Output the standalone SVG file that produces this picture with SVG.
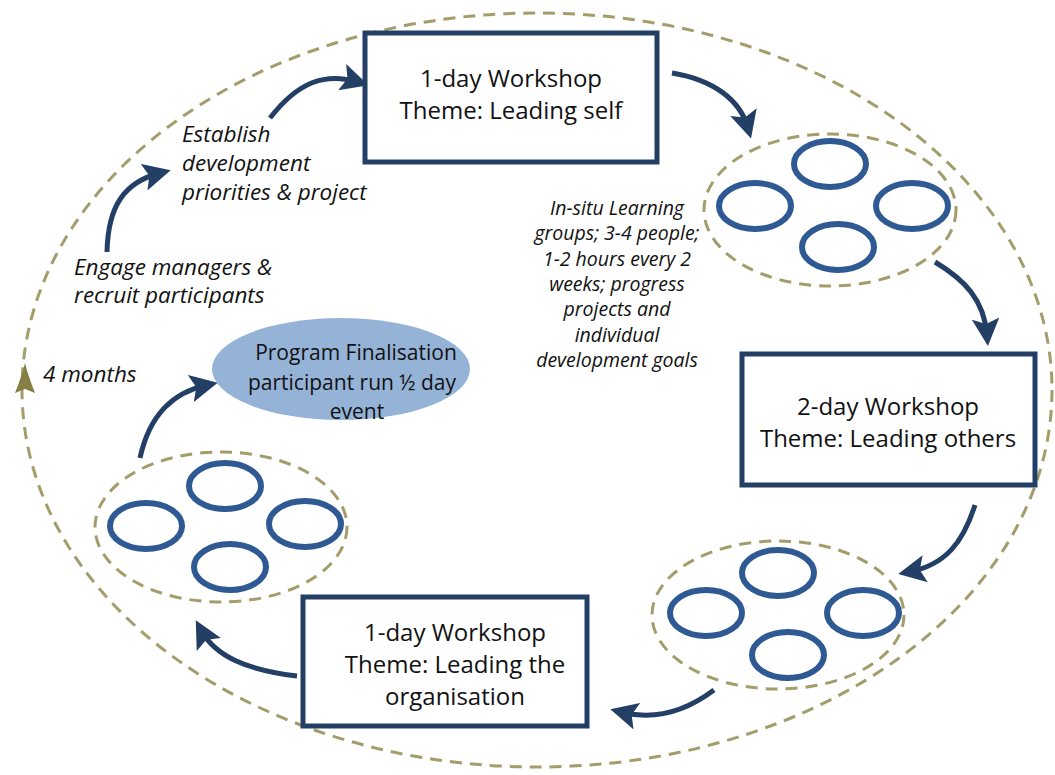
<svg xmlns="http://www.w3.org/2000/svg" width="1055" height="775" viewBox="0 0 1055 775">
<defs>
<style>
.dash{fill:none;stroke:#a39d6c;stroke-width:3;stroke-dasharray:12 8}
.box{fill:#fff;stroke:#243f66;stroke-width:5}
.ring{fill:none;stroke:#2e5993;stroke-width:6}
.conn{fill:none;stroke:#243f66;stroke-width:5;marker-end:url(#ah)}
.bt{font-family:"Open Sans","Liberation Sans",sans-serif;font-size:24px;fill:#111;text-anchor:middle}
.ft{font-family:"Open Sans","Liberation Sans",sans-serif;font-size:21px;fill:#111;text-anchor:middle}
.it{font-family:"Open Sans","Liberation Sans",sans-serif;font-style:italic;font-size:22.5px;fill:#111}
.mt{font-family:"Open Sans","Liberation Sans",sans-serif;font-style:italic;font-size:19.5px;fill:#111;text-anchor:middle}
</style>
<marker id="ah" viewBox="0 0 10 10" refX="6" refY="5" markerWidth="5.5" markerHeight="5.5" orient="auto" markerUnits="strokeWidth">
<path d="M0,0 L10,5 L0,10 L2,5 z" fill="#243f66"/>
</marker>
</defs>
<rect width="1055" height="775" fill="#fff"/>

<g id="cycle">
<ellipse class="dash" cx="537" cy="390" rx="515" ry="377"/>
<path d="M25,363 C28,375 32,385 35,393 L25,389 L15,393 C18,385 22,375 25,363 z" fill="#857f44"/>
</g>

<g id="connectors">
<path class="conn" d="M107,252 C108,205 125,182 160,173"/>
<path class="conn" d="M270,118 C298,82 325,72 358,82"/>
<path class="conn" d="M672,73 C714,80 740,100 748,128"/>
<path class="conn" d="M935,262 C965,280 984,300 987,335"/>
<path class="conn" d="M975,505 C963,543 945,565 909,572"/>
<path class="conn" d="M714,690 C682,714 652,720 621,712"/>
<path class="conn" d="M297,676 C246,670 215,656 201,630"/>
<path class="conn" d="M140,458 C150,412 175,392 207,385"/>
</g>

<g id="box1">
<rect class="box" x="365" y="33" width="292" height="129"/>
<text class="bt" x="511" y="87">1-day Workshop</text>
<text class="bt" x="511" y="119">Theme: Leading self</text>
</g>

<g id="box2">
<rect class="box" x="742" y="354" width="293" height="131"/>
<text class="bt" x="888" y="415">2-day Workshop</text>
<text class="bt" x="888" y="447">Theme: Leading others</text>
</g>

<g id="box3">
<rect class="box" x="303" y="597" width="284" height="129"/>
<text class="bt" x="455" y="641">1-day Workshop</text>
<text class="bt" x="455" y="673">Theme: Leading the</text>
<text class="bt" x="455" y="705">organisation</text>
</g>

<g id="group1">
<ellipse class="dash" cx="830" cy="210" rx="126" ry="76"/>
<ellipse class="ring" cx="830" cy="164" rx="36" ry="23"/>
<ellipse class="ring" cx="755" cy="206" rx="36" ry="23"/>
<ellipse class="ring" cx="912" cy="206" rx="36" ry="23"/>
<ellipse class="ring" cx="838" cy="247" rx="36" ry="23"/>
</g>

<g id="group2">
<ellipse class="dash" cx="778" cy="615" rx="126" ry="74"/>
<ellipse class="ring" cx="778" cy="573" rx="36" ry="23"/>
<ellipse class="ring" cx="706" cy="613" rx="36" ry="23"/>
<ellipse class="ring" cx="863" cy="613" rx="36" ry="23"/>
<ellipse class="ring" cx="788" cy="655" rx="36" ry="23"/>
</g>

<g id="group3">
<ellipse class="dash" cx="221" cy="527" rx="126" ry="75"/>
<ellipse class="ring" cx="225" cy="486" rx="36" ry="23"/>
<ellipse class="ring" cx="146" cy="526" rx="36" ry="23"/>
<ellipse class="ring" cx="305" cy="524" rx="36" ry="23"/>
<ellipse class="ring" cx="230" cy="567" rx="36" ry="23"/>
</g>

<g id="finalisation">
<ellipse cx="341" cy="369" rx="129" ry="51" fill="#95b3d7"/>
<text class="ft" x="356" y="360">Program Finalisation</text>
<text class="ft" x="352" y="390">participant run ½ day</text>
<text class="ft" x="357" y="419">event</text>
</g>

<g id="labels">
<text class="it" x="182" y="142">Establish</text>
<text class="it" x="182" y="171">development</text>
<text class="it" x="182" y="200">priorities &amp; project</text>
<text class="it" x="74" y="275">Engage managers &amp;</text>
<text class="it" x="74" y="303">recruit participants</text>
<text class="it" x="43" y="382">4 months</text>
<text class="mt" x="617" y="215">In-situ Learning</text>
<text class="mt" x="617" y="240">groups; 3-4 people;</text>
<text class="mt" x="617" y="266">1-2 hours every 2</text>
<text class="mt" x="617" y="291">weeks; progress</text>
<text class="mt" x="617" y="316">projects and</text>
<text class="mt" x="617" y="342">individual</text>
<text class="mt" x="617" y="367">development goals</text>
</g>
</svg>
